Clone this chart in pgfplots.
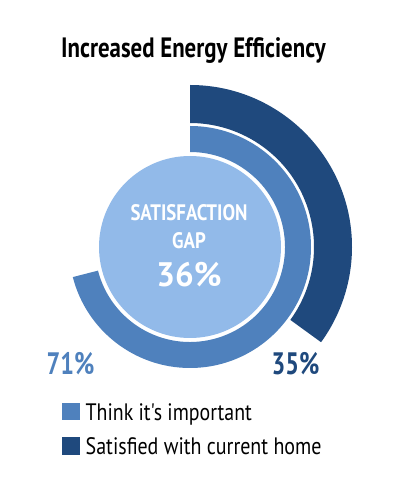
\documentclass[border=0pt]{standalone}
\usepackage{pgfplots}
\pgfplotsset{compat=1.18}
\usepackage{pgfplotstable}
\usepackage{fontspec}
\setmainfont[Ligatures=TeXOff]{PT Sans}
\definecolor{cLight}{RGB}{146,186,233}
\definecolor{cMid}{RGB}{79,129,189}
\definecolor{cDark}{RGB}{31,73,125}
\pgfplotstableread{
series value
important 71
satisfied 35
}\gaptable
\begin{document}
\begin{tikzpicture}
\pgfplotstablegetelem{0}{value}\of\gaptable
\pgfmathsetmacro\aimp{90-3.6*\pgfplotsretval}
\pgfplotstablegetelem{1}{value}\of\gaptable
\pgfmathsetmacro\asat{90-3.6*\pgfplotsretval}
\begin{axis}[
  width=416pt, height=485pt, scale only axis,
  xmin=0, xmax=416, ymin=0, ymax=485,
  hide axis, clip=false,
]
\coordinate (c) at (axis cs:190,238);
% center circle
\fill[cLight] (c) circle[radius=91pt];
% inner ring (Think it's important)
\fill[cMid] ([shift={(90:121pt)}]c) arc[start angle=90, end angle=\aimp, radius=121pt]
  -- ([shift={(\aimp:95pt)}]c) arc[start angle=\aimp, end angle=90, radius=95pt] -- cycle;
% outer ring (Satisfied)
\fill[cDark] ([shift={(90:162pt)}]c) arc[start angle=90, end angle=\asat, radius=162pt]
  -- ([shift={(\asat:124pt)}]c) arc[start angle=\asat, end angle=90, radius=124pt] -- cycle;
% title
\node[anchor=base west, inner sep=0pt, font=\bfseries\fontsize{28}{30}\selectfont] at (axis cs:61,427.7) {\scalebox{0.816}[1]{Increased Energy Efficiency}};
% center text
\node[anchor=base, inner sep=0pt, text=white, font=\bfseries\fontsize{22.4}{24}\selectfont] at (axis cs:189,264.3) {\scalebox{0.84}[1]{SATISFACTION}};
\node[anchor=base, inner sep=0pt, text=white, font=\bfseries\fontsize{22.4}{24}\selectfont] at (axis cs:189,236.7) {\scalebox{0.84}[1]{GAP}};
\node[anchor=base, inner sep=0pt, text=white, font=\bfseries\fontsize{34}{36}\selectfont] at (axis cs:189,198.3) {\scalebox{0.97}[1]{36\%}};
% value labels
\node[anchor=base west, inner sep=0pt, text=cMid, font=\bfseries\fontsize{31}{33}\selectfont] at (axis cs:46.5,110) {\scalebox{0.78}[1]{71\%}};
\node[anchor=base west, inner sep=0pt, text=cDark, font=\bfseries\fontsize{31}{33}\selectfont] at (axis cs:271.5,110) {\scalebox{0.78}[1]{35\%}};
% legend
\fill[cMid] (axis cs:62,64.5) rectangle (axis cs:80,82);
\fill[cDark] (axis cs:62,30) rectangle (axis cs:80,47.5);
\node[anchor=base west, inner sep=0pt, font=\fontsize{23.8}{25}\selectfont] at (axis cs:85.5,64.3) {\scalebox{0.835}[1]{Think it's important}};
\node[anchor=base west, inner sep=0pt, font=\fontsize{23.8}{25}\selectfont] at (axis cs:85.5,30) {\scalebox{0.84}[1]{Satisfied with current home}};
\end{axis}
\useasboundingbox (0,0) rectangle (416pt,485pt);
\end{tikzpicture}
\end{document}
